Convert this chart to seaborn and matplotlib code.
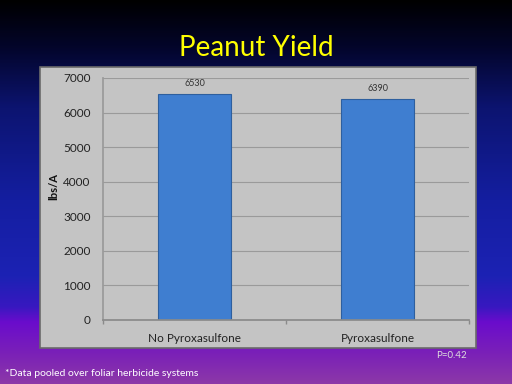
import numpy as np
import pandas as pd
import matplotlib
matplotlib.use("Agg")
import matplotlib.pyplot as plt
from matplotlib.colors import LinearSegmentedColormap
from matplotlib.patches import Rectangle
import seaborn as sns

# dados
categories = ["No Pyroxasulfone", "Pyroxasulfone"]
yield_values = [6530, 6390]
y_ticks = [0, 1000, 2000, 3000, 4000, 5000, 6000, 7000]

df = pd.DataFrame({"trt": categories, "yield": yield_values})

sns.set_theme(style="white")
plt.rcParams["font.family"] = ["Lato", "DejaVu Sans"]

fig = plt.figure(figsize=(5.12, 3.84), dpi=100)

# fundo em gradiente (preto -> azul -> roxo)
bg = fig.add_axes([0, 0, 1, 1], zorder=-2)
grad = LinearSegmentedColormap.from_list("bg", [
    (0.0, "#000000"),
    (0.12, "#03052a"),
    (0.28, "#0c1470"),
    (0.52, "#141ea0"),
    (0.72, "#1c22b4"),
    (0.80, "#3818c0"),
    (0.84, "#6a0ccc"),
    (0.92, "#7a20b8"),
    (1.0, "#8c38a8"),
])
bg.imshow(np.linspace(0, 1, 256).reshape(-1, 1), aspect="auto", cmap=grad,
          extent=[0, 1, 0, 1], origin="upper")
bg.set_axis_off()

# painel cinza do grafico
fig.patches.append(Rectangle((40 / 512, 36 / 384), 436 / 512, 281 / 384,
                             transform=fig.transFigure, facecolor="#c4c4c4",
                             edgecolor="#6a6a6a", linewidth=1.2, zorder=-1))

ax = fig.add_axes([103 / 512, 64 / 384, 366 / 512, 242 / 384])
ax.set_facecolor("none")
sns.barplot(data=df, x="trt", y="yield", ax=ax, color="#3f7ed0",
            width=0.4, edgecolor="#2e5f9e", linewidth=0.8, saturation=1)
ax.set_ylim(0, 7000)
ax.set_xlim(-0.5, 1.5)
ax.set_yticks(y_ticks)
ax.yaxis.grid(True, color="#9a9a9a", linewidth=0.8)
ax.set_axisbelow(True)
for s in ["top", "right"]:
    ax.spines[s].set_visible(False)
ax.spines["left"].set_color("#9a9a9a")
ax.spines["bottom"].set_color("#8a8a8a")
ax.tick_params(axis="y", labelsize=8.5, colors="#222222", length=3,
               color="#9a9a9a", pad=6)
ax.tick_params(axis="x", labelsize=8.5, colors="#222222", length=0, pad=9)
# marcas entre categorias
ax.set_xticks([-0.5, 0.5, 1.5], minor=True)
ax.tick_params(axis="x", which="minor", length=3, color="#8a8a8a", bottom=True)
ax.set_xlabel("")
ax.set_ylabel("lbs/A", fontsize=8, fontweight="bold", color="#111111", labelpad=1)
ax.yaxis.set_label_coords(-0.12, 0.55)

for p, v in zip(ax.patches, yield_values):
    ax.text(p.get_x() + p.get_width() / 2, v + 180, str(v), ha="center",
            va="bottom", fontsize=6.5, color="#333333")

fig.text(0.5, 0.875, "Peanut Yield", ha="center", va="center",
         fontsize=20, color="#ffff00")
fig.text(467 / 512, 1 - 355 / 384, "P=0.42", ha="right", va="center",
         fontsize=7, color="#dddddd")
fig.text(5 / 512, 1 - 373 / 384, "*Data pooled over foliar herbicide systems",
         ha="left", va="center", fontsize=7.5, color="#ffffff")

fig.savefig("out.png", dpi=100)
